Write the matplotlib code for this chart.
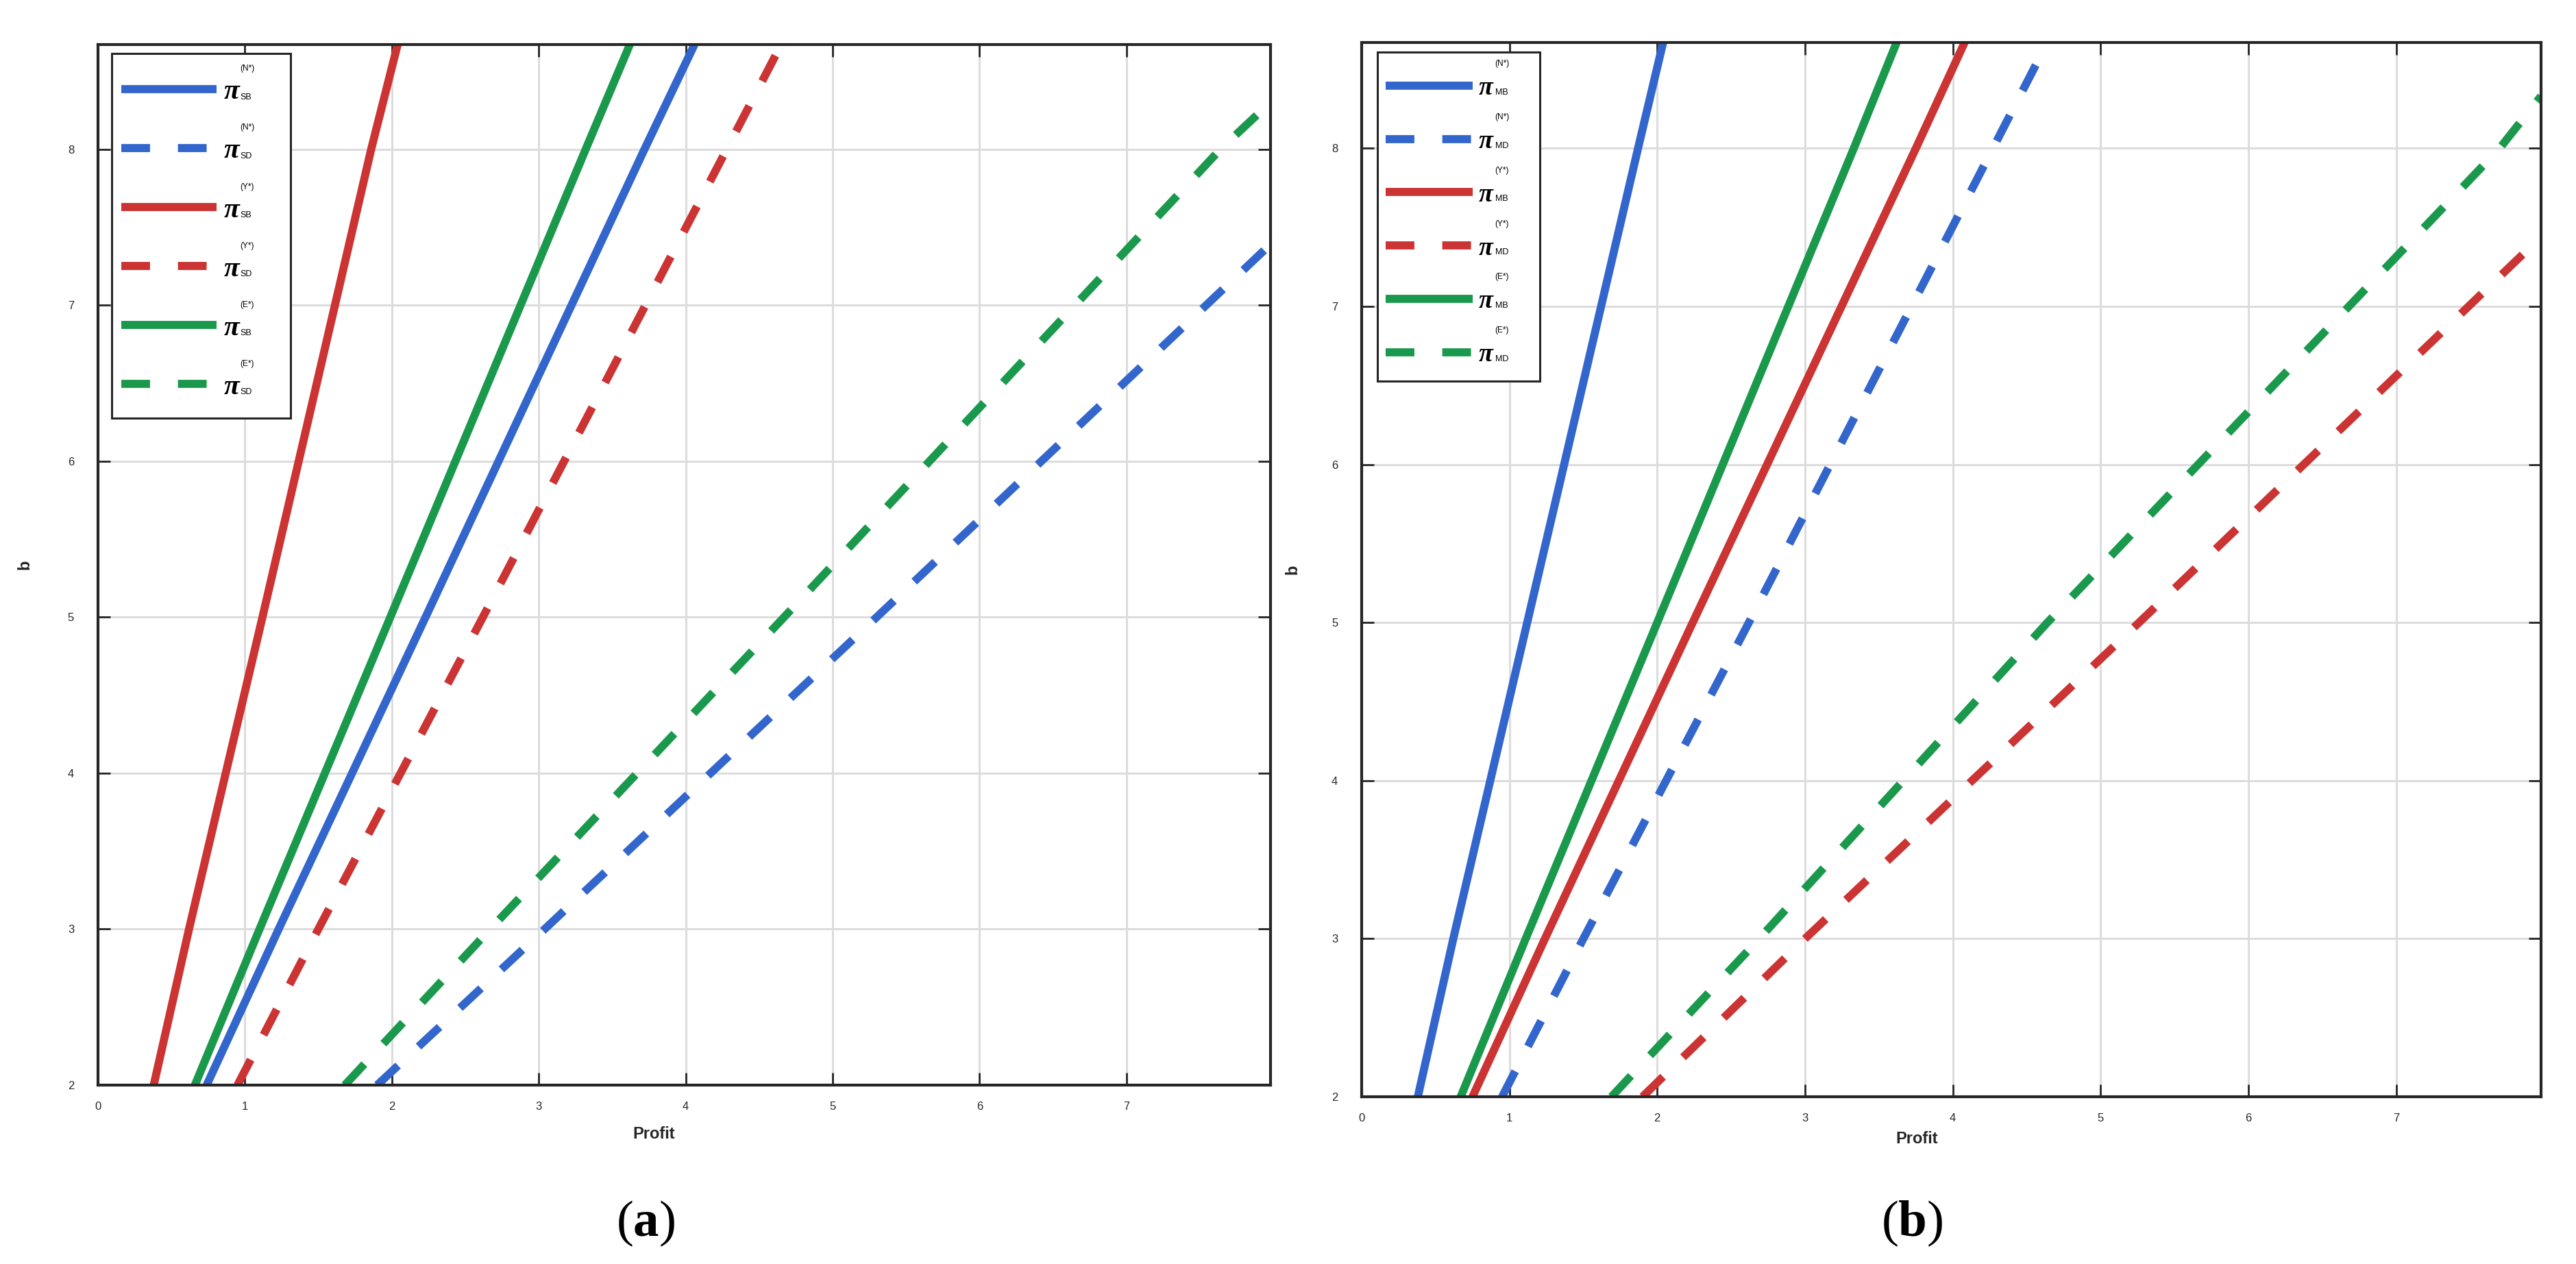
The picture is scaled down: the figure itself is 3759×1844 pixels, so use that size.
import matplotlib.pyplot as plt
from matplotlib.patches import Rectangle

plt.rcParams['mathtext.fontset'] = 'custom'
plt.rcParams['mathtext.rm'] = 'Liberation Serif'
plt.rcParams['mathtext.bf'] = 'Liberation Serif:bold'

BLUE = '#3366CC'
RED = '#CC3333'
GREEN = '#1A994D'
DARK = '#262626'

# ---- panel (a): profit at several values of b ----
a_b_solid = [2, 3, 5, 8, 8.67]
a_sb_n = [0.74, 1.23, 2.23, 3.72, 4.06]
a_sb_y = [0.38, 0.62, 1.12, 1.86, 2.04]
a_sb_e = [0.66, 1.10, 1.99, 3.32, 3.62]
a_sd_y = [0.95, 1.50, 2.62, 4.28, 4.65]
a_b_sd_n = [2, 3, 5, 7.39]
a_sd_n = [1.90, 3.04, 5.30, 7.98]
a_b_sd_e = [2, 3, 5, 8, 8.30]
a_sd_e = [1.68, 2.67, 4.67, 7.64, 7.98]

# ---- panel (b) ----
b_b_solid = [2, 3, 5, 8, 8.67]
b_mb_n = [0.38, 0.62, 1.12, 1.87, 2.04]
b_mb_y = [0.75, 1.24, 2.24, 3.75, 4.08]
b_mb_e = [0.67, 1.11, 2.00, 3.33, 3.62]
b_b_md_n = [2, 3, 5, 8.67]
b_md_n = [0.95, 1.50, 2.62, 4.64]
b_b_md_y = [2, 3, 5, 7.44]
b_md_y = [1.90, 3.00, 5.26, 7.98]
b_b_md_e = [2, 3, 5, 8, 8.33]
b_md_e = [1.69, 2.69, 4.64, 7.70, 7.98]

sups = ['(N*)', '(N*)', '(Y*)', '(Y*)', '(E*)', '(E*)']
x_ticks = list(range(0, 8))
y_ticks = list(range(2, 9))

DASH = (3.55, 3.45)


def draw_panel(ax, series, subs, frame, anchor, leg_size, leg_space, hlen, tpad):
    handles = []
    for (prof, bs, color, dashed) in series:
        kw = dict(color=color, lw=8.5, solid_capstyle='butt', dash_capstyle='butt')
        if dashed:
            kw['dashes'] = DASH
        line, = ax.plot(prof, bs, **kw)
        handles.append(line)

    ax.set_xlim(0, 7.98)
    ax.set_ylim(2, 8.67)
    ax.set_xticks(x_ticks)
    ax.set_yticks(y_ticks)
    ax.grid(True, color='#dcdcdc', lw=2.2)
    ax.set_axisbelow(True)
    for s in ax.spines.values():
        s.set_linewidth(3)
        s.set_color(DARK)
    ax.tick_params(direction='in', length=13, width=2, color=DARK,
                   top=True, right=True, labelsize=12, labelcolor=DARK)
    ax.tick_params(axis='x', pad=17)
    ax.tick_params(axis='y', pad=25)
    for lab in ax.get_xticklabels() + ax.get_yticklabels():
        lab.set_family('Liberation Sans')

    # legend box
    ax.add_patch(Rectangle(frame[:2], frame[2], frame[3], transform=ax.transAxes,
                           facecolor='white', edgecolor=DARK, lw=2.2,
                           zorder=4.5, clip_on=False))
    leg = ax.legend(handles, ['\u03c0'] * 6, loc='upper left',
                    bbox_to_anchor=anchor, borderaxespad=0, borderpad=0,
                    prop={'family': 'Liberation Serif', 'weight': 'bold',
                          'style': 'italic', 'size': leg_size},
                    handlelength=hlen, handletextpad=tpad,
                    labelspacing=leg_space, frameon=False)
    leg.set_zorder(5)
    for txt, sub, sup in zip(leg.get_texts(), subs, sups):
        ax.annotate(sub, xy=(0, 0), xycoords=txt, xytext=(17, 6),
                    textcoords='offset points', fontsize=9,
                    family='Liberation Sans', zorder=10, annotation_clip=False)
        ax.annotate(sup, xy=(0, 0), xycoords=txt, xytext=(17, 36),
                    textcoords='offset points', fontsize=8.5,
                    family='Liberation Sans', zorder=10, annotation_clip=False)
    return ax


fig = plt.figure(figsize=(37.59, 18.44), dpi=100)

ax_a = fig.add_axes([0.0380, 0.1415, 0.4552, 0.8232])
series_a = [(a_sb_n, a_b_solid, BLUE, False),
            (a_sd_n, a_b_sd_n, BLUE, True),
            (a_sb_y, a_b_solid, RED, False),
            (a_sd_y, a_b_solid, RED, True),
            (a_sb_e, a_b_solid, GREEN, False),
            (a_sd_e, a_b_sd_e, GREEN, True)]
draw_panel(ax_a, series_a, ['SB', 'SD'] * 3,
           (0.0117, 0.641, 0.1525, 0.3505), (0.0199, 0.9670),
           30, 1.15, 3.33, 0.26)

ax_b = fig.add_axes([0.5286, 0.1323, 0.4578, 0.8341])
series_b = [(b_mb_n, b_b_solid, BLUE, False),
            (b_md_n, b_b_md_n, BLUE, True),
            (b_mb_y, b_b_solid, RED, False),
            (b_md_y, b_b_md_y, RED, True),
            (b_mb_e, b_b_solid, GREEN, False),
            (b_md_e, b_b_md_e, GREEN, True)]
draw_panel(ax_b, series_b, ['MB', 'MD'] * 3,
           (0.0134, 0.6788, 0.1377, 0.3121), (0.0203, 0.9680),
           27.5, 1.12, 3.32, 0.24)

for ax in (ax_a, ax_b):
    ax.set_xlabel('Profit', fontsize=17, family='Liberation Sans',
                  weight='bold', color=DARK)
    ax.set_ylabel('b', fontsize=17, family='Liberation Sans',
                  weight='bold', color=DARK)
    ax.xaxis.label.set_va('center')
    ax.yaxis.label.set_va('center')
ax_a.xaxis.set_label_coords(0.474, -0.047)
ax_a.yaxis.set_label_coords(-0.0625, 0.5)
ax_b.xaxis.set_label_coords(0.471, -0.040)
ax_b.yaxis.set_label_coords(-0.0587, 0.5)

fig.text(0.2505, 0.032, r'$\mathrm{(}\mathbf{a}\mathrm{)}$', fontsize=54,
         ha='center', va='center')
fig.text(0.7422, 0.032, r'$\mathrm{(}\mathbf{b}\mathrm{)}$', fontsize=54,
         ha='center', va='center')

fig.savefig('out.png', dpi=100)
